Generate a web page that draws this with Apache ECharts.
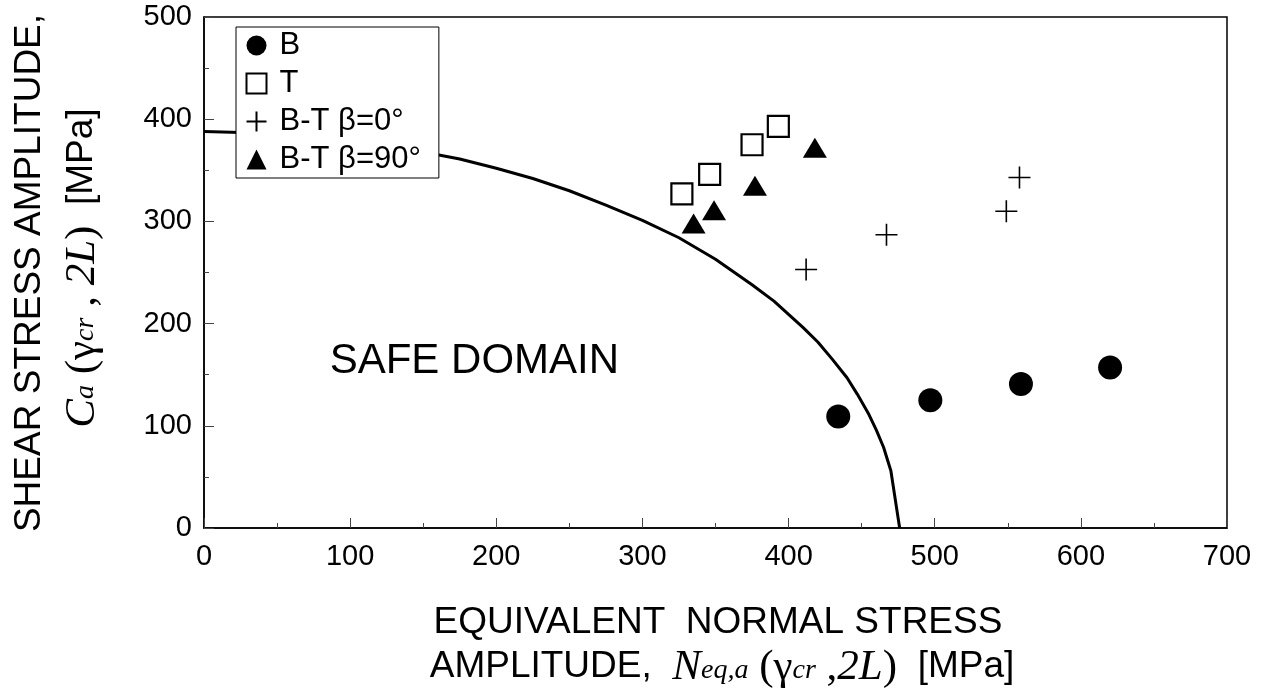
<!DOCTYPE html>
<html>
<head>
<meta charset="utf-8">
<script src="https://cdn.jsdelivr.net/npm/echarts@6/dist/echarts.min.js"></script>
<style>
  html, body { margin: 0; padding: 0; background: #fff; }
  #main { width: 1266px; height: 699px; }
</style>
</head>
<body>
<div id="main"></div>
<script>
// datos [N_eq,a , C_a]
var bData    = [[434, 109], [497, 125], [559, 141], [620, 157]];
var tData    = [[327, 327], [346, 346], [375, 375], [393, 393]];
var bt0Data  = [[412, 253], [467, 287], [549, 310], [558, 343]];
var bt90Data = [[335, 298], [349, 311], [377, 335], [418, 372]];

// curva limite (dominio seguro)
var curveN = [0, 25, 50, 75, 100, 125, 150, 175, 200, 225, 250, 275, 300, 325, 350, 375, 390, 400, 410, 420, 430, 440, 447, 455, 460, 465, 470, 476];
var curveC = [388, 387, 386, 383, 379, 374, 368, 361, 352, 342, 330, 316, 301, 284, 263, 238, 222, 209, 196, 182, 165, 147, 131, 111, 96, 79, 56, 0];

var xTicks = [0, 100, 200, 300, 400, 500, 600, 700];
var yTicks = [0, 100, 200, 300, 400, 500];

var curveData = curveN.map(function (n, i) { return [n, curveC[i]]; });

var SANS = 'Arial, "Liberation Sans", sans-serif';
var SERIF = '"Times New Roman", "Liberation Serif", serif';

var dom = document.getElementById("main");
var myChart = echarts.init(dom);

var option = {
  backgroundColor: '#fff',
  animation: false,
  grid: {
    left: 204, right: 39, top: 17, bottom: 171,
    show: true, borderColor: '#000', borderWidth: 1.5, backgroundColor: 'transparent'
  },
  legend: {
    orient: 'vertical',
    left: 236, top: 27,
    padding: [3, 18, 3, 8],
    itemGap: 7,
    itemWidth: 20, itemHeight: 20,
    borderColor: '#000', borderWidth: 1,
    backgroundColor: '#fff',
    textStyle: { fontSize: 31, fontFamily: SANS, color: '#000', padding: [0, 0, 0, 8] },
    data: ['B', 'T', 'B-T β=0°', 'B-T β=90°']
  },
  xAxis: {
    type: 'value',
    min: xTicks[0], max: xTicks[xTicks.length - 1], interval: 100,
    axisLine: { show: true, lineStyle: { color: '#000', width: 1.5 } },
    axisTick: { show: true, inside: true, length: 10, lineStyle: { color: '#444' } },
    minorTick: { show: true, splitNumber: 2, length: 5, lineStyle: { color: '#444' } },
    splitLine: { show: false },
    axisLabel: { fontSize: 29, fontFamily: SANS, color: '#000', margin: 14 }
  },
  yAxis: {
    type: 'value',
    min: yTicks[0], max: yTicks[yTicks.length - 1], interval: 100,
    axisLine: { show: true, lineStyle: { color: '#000', width: 1.5 } },
    axisTick: { show: true, inside: true, length: 10, lineStyle: { color: '#444' } },
    minorTick: { show: true, splitNumber: 2, length: 5, lineStyle: { color: '#444' } },
    splitLine: { show: false },
    axisLabel: { fontSize: 29, fontFamily: SANS, color: '#000', margin: 12 }
  },
  series: [
    {
      name: 'curve',
      type: 'line',
      data: curveData,
      showSymbol: false,
      smooth: false,
      lineStyle: { color: '#000', width: 3 },
      z: 1
    },
    {
      name: 'B',
      type: 'scatter',
      symbol: 'circle',
      symbolSize: 24,
      itemStyle: { color: '#000', opacity: 1 },
      data: bData,
      z: 3
    },
    {
      name: 'T',
      type: 'scatter',
      symbol: 'rect',
      symbolSize: 21,
      itemStyle: { color: '#fff', borderColor: '#000', borderWidth: 2.2, opacity: 1 },
      data: tData,
      z: 3
    },
    {
      name: 'B-T β=0°',
      type: 'scatter',
      symbol: 'path://M0,10 L20,10 M10,0 L10,20',
      symbolSize: 22,
      itemStyle: { color: 'none', borderColor: '#000', borderWidth: 1.6, opacity: 1 },
      data: bt0Data,
      z: 3
    },
    {
      name: 'B-T β=90°',
      type: 'scatter',
      symbol: 'triangle',
      symbolSize: [24, 20],
      itemStyle: { color: '#000', opacity: 1 },
      data: bt90Data,
      z: 3
    }
  ]
};

if (option && typeof option === "object") {
  myChart.setOption(option, true);
}

// textos: titulos de ejes y "SAFE DOMAIN"
var safePos = myChart.convertToPixel({ gridIndex: 0 }, [185, 163]);
var mathRich = {
  s: { fontSize: 37, fontFamily: SANS, color: '#000', padding: [0, 0, 8, 0] },
  it: { fontSize: 43, fontFamily: SERIF, fontStyle: 'italic', color: '#000', padding: [0, 0, 6, 0] },
  tm: { fontSize: 43, fontFamily: SERIF, color: '#000', padding: [0, 0, 6, 0] },
  sub: { fontSize: 28, fontFamily: SERIF, fontStyle: 'italic', color: '#000' }
};

myChart.setOption({
  graphic: [
    {
      type: 'text',
      x: safePos[0], y: safePos[1],
      style: { text: 'SAFE DOMAIN', fontSize: 42, fontFamily: SANS, fill: '#000', align: 'center', verticalAlign: 'middle' }
    },
    {
      type: 'text',
      x: 718, y: 623,
      style: { text: 'EQUIVALENT  NORMAL STRESS', fontSize: 37, fontFamily: SANS, fill: '#000', align: 'center', verticalAlign: 'middle' }
    },
    {
      type: 'text',
      x: 722, y: 671,
      style: {
        text: '{s|AMPLITUDE,  }{it|N}{sub|eq,a}{tm| (γ}{sub|cr}{tm| ,}{it|2L}{tm|)}{s|  [MPa]}',
        align: 'center', verticalAlign: 'middle',
        rich: mathRich
      }
    },
    {
      type: 'text',
      x: 30, y: 273,
      rotation: Math.PI / 2,
      style: { text: 'SHEAR STRESS AMPLITUDE,', fontSize: 37, fontFamily: SANS, fill: '#000', align: 'center', verticalAlign: 'middle' }
    },
    {
      type: 'text',
      x: 86, y: 268,
      rotation: Math.PI / 2,
      style: {
        text: '{it|C}{sub|a}{tm| (γ}{sub|cr}{tm| , }{it|2L}{tm|)}{s|  [MPa]}',
        align: 'center', verticalAlign: 'middle',
        rich: mathRich
      }
    }
  ]
});
</script>
</body>
</html>
